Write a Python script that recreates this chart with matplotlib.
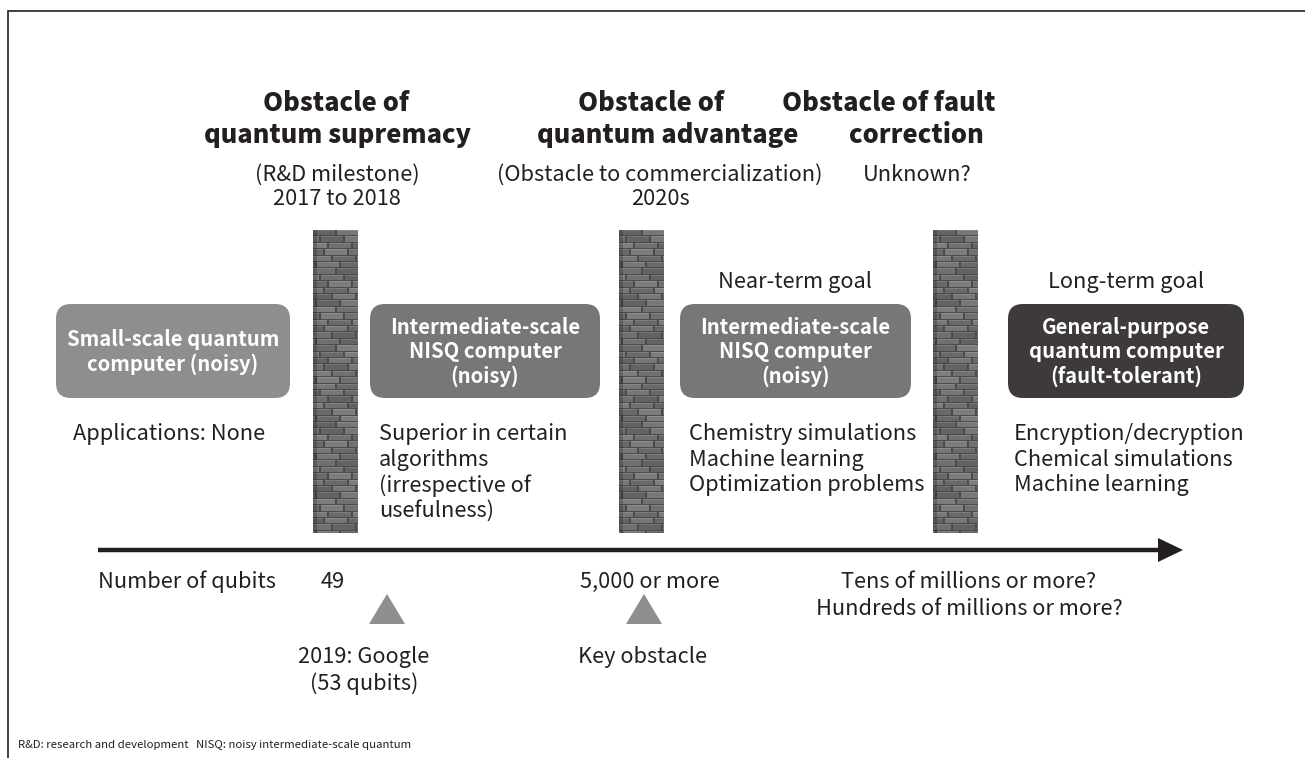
import numpy as np
import matplotlib
matplotlib.use("Agg")
import matplotlib.pyplot as plt
from matplotlib.patches import FancyBboxPatch, Polygon

plt.rcParams["font.family"] = ["Noto Sans CJK JP", "DejaVu Sans"]

INK = "#231f20"

# --- content -------------------------------------------------------------
obstacle_titles = [
    ["Obstacle of", "quantum supremacy"],
    ["Obstacle of", "quantum advantage"],
    ["Obstacle of fault", "correction"],
]
obstacle_notes = [
    ["(R&D milestone)", "2017 to 2018"],
    ["(Obstacle to commercialization)", "2020s"],
    ["Unknown?"],
]
box_labels = [
    "Small-scale quantum\ncomputer (noisy)",
    "Intermediate-scale\nNISQ computer\n(noisy)",
    "Intermediate-scale\nNISQ computer\n(noisy)",
    "General-purpose\nquantum computer\n(fault-tolerant)",
]
box_colors = ["#8e8e8e", "#777777", "#777777", "#3d3a39"]
goal_labels = ["", "", "Near-term goal", "Long-term goal"]
applications = [
    ["Applications: None"],
    ["Superior in certain", "algorithms", "(irrespective of", "usefulness)"],
    ["Chemistry simulations", "Machine learning", "Optimization problems"],
    ["Encryption/decryption", "Chemical simulations", "Machine learning"],
]
axis_label = "Number of qubits"
qubit_marks = [["49"], ["5,000 or more"], ["Tens of millions or more?", "Hundreds of millions or more?"]]
milestones = [["2019: Google", "(53 qubits)"], ["Key obstacle"]]
footnote = "R&D: research and development   NISQ: noisy intermediate-scale quantum"

# --- layout (pixels) -------------------------------------------------------
W, H = 1305, 758
fig = plt.figure(figsize=(W / 100, H / 100), dpi=100)
ax = fig.add_axes([0, 0, 1, 1])
ax.set_xlim(0, W)
ax.set_ylim(H, 0)
ax.axis("off")

BODY = 15.7

# frame
ax.plot([8, 8, W], [H, 11, 11], color=INK, lw=1.2, solid_joinstyle="miter")

LINE = 25.7
title_pos = [[(336, 103), (338, 135)], [(651, 103), (668, 135)], [(889, 103), (916, 135)]]
for lines, pos in zip(obstacle_titles, title_pos):
    for t, (x, y) in zip(lines, pos):
        ax.text(x, y, t, ha="center", va="center", fontsize=18.3, fontweight="black", color=INK)

note_x = [337, 660, 917]
for lines, x in zip(obstacle_notes, note_x):
    for i, t in enumerate(lines):
        ax.text(x, 175 + i * 24, t, ha="center", va="center", fontsize=BODY, color=INK)


# brick walls
def brick_texture(h, w):
    img = np.full((h, w), 0.30)
    row_h, brick_w = 6.4, 24
    for r in range(int(h / row_h) + 1):
        y0 = int(round(r * row_h))
        y1 = int(round((r + 1) * row_h)) - 1
        off = (r % 2) * brick_w // 2 + (r % 3) * 4
        for b in range(-1, w // brick_w + 2):
            x0 = b * brick_w - off
            x1 = x0 + brick_w - 2
            shade = 0.44 + 0.05 * (((r * 7 + b * 13) % 5) - 2) / 2
            ys, ye = max(y0, 0), min(y1, h)
            xs, xe = max(x0, 0), min(x1, w)
            if ye > ys and xe > xs:
                img[ys:ye, xs:xe] = shade
                img[ys, xs:xe] = shade + 0.07
    # darker left edge
    img[:, :4] *= 0.8
    return img


wall_x = [313, 619, 933]
tex = brick_texture(303, 45)
for x in wall_x:
    ax.imshow(tex, cmap="gray", vmin=0, vmax=1, extent=(x, x + 45, 533, 230),
              aspect="auto", interpolation="bilinear", zorder=1)

# boxes
box_x = [56, 370, 680, 1008]
box_w = [234, 230, 231, 236]
for lbl, c, x, w, goal in zip(box_labels, box_colors, box_x, box_w, goal_labels):
    ax.add_patch(FancyBboxPatch((x, 304), w, 94, boxstyle="round,pad=0,rounding_size=15",
                                fc=c, ec="none", zorder=2))
    ax.text(x + w / 2, 352, lbl, ha="center", va="center", fontsize=14.6, fontweight="bold",
            color="white", linespacing=1.2, zorder=3)
    if goal:
        ax.text(x + w / 2, 282, goal, ha="center", va="center", fontsize=BODY, color=INK)

app_x = [73, 379, 689, 1014]
for lines, x in zip(applications, app_x):
    for i, t in enumerate(lines):
        ax.text(x, 434 + i * LINE, t, ha="left", va="center", fontsize=BODY, color=INK)

# timeline arrow
ax.plot([98, 1162], [550, 550], color=INK, lw=3.2, solid_capstyle="butt")
ax.add_patch(Polygon([[1158, 538], [1183, 550], [1158, 562]], closed=True, fc=INK, ec="none"))

ax.text(98, 582, axis_label, ha="left", va="center", fontsize=BODY, color=INK)
mark_pos = [(321, "left"), (650, "center"), (969, "center")]
for lines, (x, ha) in zip(qubit_marks, mark_pos):
    for i, t in enumerate(lines):
        ax.text(x, 582 + i * 27, t, ha=ha, va="center", fontsize=BODY, color=INK)

tri_x = [387, 644]
for x in tri_x:
    ax.add_patch(Polygon([[x - 18, 624], [x, 594], [x + 18, 624]], closed=True,
                         fc="#8e8e8e", ec="none"))

ms_x = [364, 642]
for lines, x in zip(milestones, ms_x):
    for i, t in enumerate(lines):
        ax.text(x, 657 + i * 27, t, ha="center", va="center", fontsize=BODY, color=INK)

ax.text(18, 745, footnote, ha="left", va="center", fontsize=8.2, color=INK)

fig.savefig("out.png", dpi=100)
